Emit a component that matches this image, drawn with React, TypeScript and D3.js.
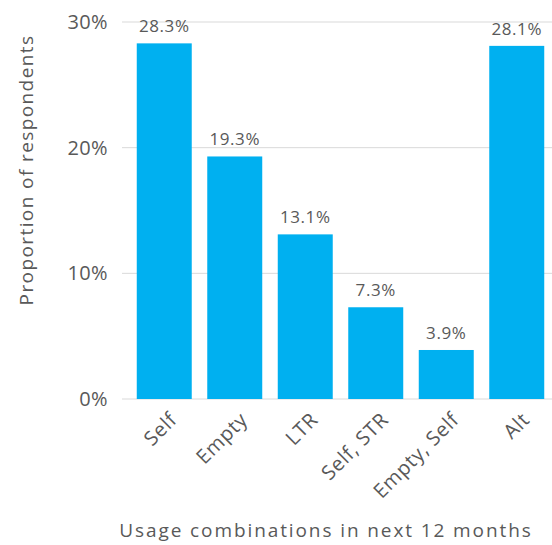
import React, { useEffect, useRef } from 'react';
import * as d3 from 'd3';

const categories = ['Self', 'Empty', 'LTR', 'Self, STR', 'Empty, Self', 'Alt'];
const shares = [28.3, 19.3, 13.1, 7.3, 3.9, 28.1];
const yTicks = [0, 10, 20, 30];

const width = 552;
const height = 545;
const font = '"Open Sans", "Noto Sans", sans-serif';
const textColor = '#595959';

const App: React.FC = () => {
  const svgRef = useRef<SVGSVGElement | null>(null);

  useEffect(() => {
    if (!svgRef.current) return;
    const svg = d3.select(svgRef.current);
    svg.selectAll('*').remove();

    const x = d3.scaleBand<string>()
      .domain(categories)
      .range([129, 552])
      .paddingInner(0.22)
      .paddingOuter(0.11);

    const y = d3.scaleLinear().domain([0, 30]).range([399, 22]);

    // gridlines
    svg.append('g')
      .selectAll('line')
      .data(yTicks)
      .join('line')
      .attr('x1', 122)
      .attr('x2', 552)
      .attr('y1', d => y(d))
      .attr('y2', d => y(d))
      .attr('stroke', '#d9d9d9')
      .attr('stroke-width', 1);

    // y tick labels
    svg.append('g')
      .selectAll('text')
      .data(yTicks)
      .join('text')
      .attr('x', 108)
      .attr('y', d => y(d))
      .attr('dy', '0.35em')
      .attr('text-anchor', 'end')
      .attr('font-family', font)
      .attr('font-size', 20)
      .attr('letter-spacing', 0.4)
      .attr('fill', textColor)
      .text(d => `${d}%`);

    // bars
    svg.append('g')
      .selectAll('rect')
      .data(shares)
      .join('rect')
      .attr('x', (_, i) => x(categories[i]) || 0)
      .attr('width', x.bandwidth())
      .attr('y', d => y(d))
      .attr('height', d => y(0) - y(d))
      .attr('fill', '#00B0F0');

    // value labels
    svg.append('g')
      .selectAll('text')
      .data(shares)
      .join('text')
      .attr('x', (_, i) => (x(categories[i]) || 0) + x.bandwidth() / 2)
      .attr('y', d => y(d) - 11)
      .attr('text-anchor', 'middle')
      .attr('font-family', font)
      .attr('font-size', 17)
      .attr('letter-spacing', 0.6)
      .attr('fill', textColor)
      .text(d => `${d.toFixed(1)}%`);

    // x category labels
    svg.append('g')
      .selectAll('text')
      .data(categories)
      .join('text')
      .attr('transform', d => `translate(${(x(d) || 0) + x.bandwidth() / 2 + 4},${411}) rotate(-45)`)
      .attr('text-anchor', 'end')
      .attr('dy', '0.71em')
      .attr('font-family', font)
      .attr('font-size', 20)
      .attr('letter-spacing', 0.7)
      .attr('fill', textColor)
      .text(d => d);

    // axis titles
    svg.append('text')
      .attr('x', 326)
      .attr('y', 537)
      .attr('text-anchor', 'middle')
      .attr('font-family', font)
      .attr('font-size', 19)
      .attr('letter-spacing', 1.9)
      .attr('fill', textColor)
      .text('Usage combinations in next 12 months');

    svg.append('text')
      .attr('transform', `translate(33,${170}) rotate(-90)`)
      .attr('text-anchor', 'middle')
      .attr('font-family', font)
      .attr('font-size', 19)
      .attr('letter-spacing', 1.4)
      .attr('fill', textColor)
      .text('Proportion of respondents');
  }, []);

  return (
    <svg
      ref={svgRef}
      width={width}
      height={height}
      style={{ position: 'absolute', left: 0, top: 0, background: '#fff' }}
    />
  );
};

export default App;
